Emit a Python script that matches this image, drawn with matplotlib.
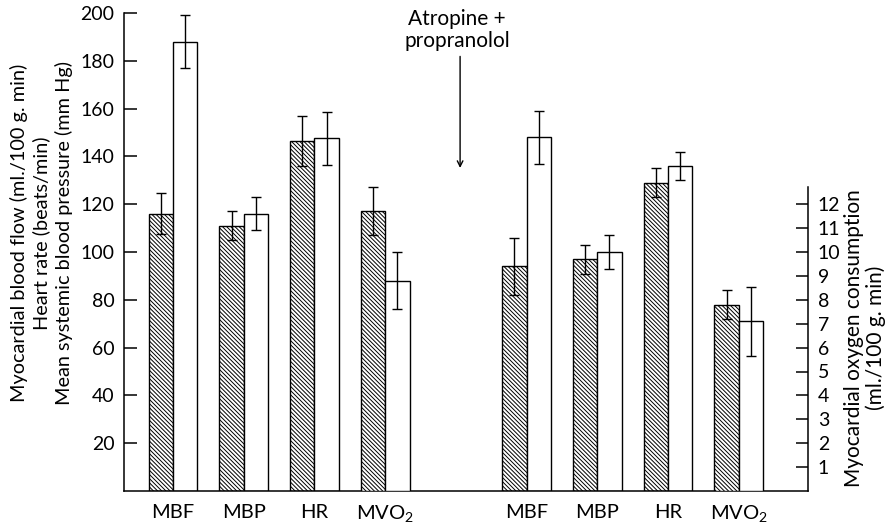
import numpy as np
import matplotlib.pyplot as plt

plt.rcParams['font.family'] = ['Lato', 'DejaVu Sans']
plt.rcParams['mathtext.default'] = 'regular'
plt.rcParams['hatch.linewidth'] = 0.7

labels = ['MBF', 'MBP', 'HR', 'MVO$_2$']

# MBF, MBP, HR on left scale; hatched = control, open = second measurement
before_hatched = [116, 111, 146.5]
before_hatched_err = [8.5, 6, 10.5]
before_open = [188, 116, 147.5]
before_open_err = [11, 7, 11]

after_hatched = [94, 97, 129]
after_hatched_err = [12, 6, 6]
after_open = [148, 100, 136]
after_open_err = [11, 7, 6]

# MVO2 on right scale (before, after)
mvo2_hatched = [11.7, 7.8]
mvo2_hatched_err = [1.0, 0.6]
mvo2_open = [8.8, 7.1]
mvo2_open_err = [1.2, 1.45]

left_pos = np.array([0, 1, 2, 3])
right_pos = np.array([5, 6, 7, 8])
w = 0.345
HATCH = '\\' * 8

fig, ax = plt.subplots(figsize=(8.9, 5.31), dpi=100)
fig.subplots_adjust(left=124/890, right=808/890, bottom=40/531, top=518/531)
ax2 = ax.twinx()


def draw(axis, x, h, e, hatched):
    axis.bar(x, h, w, yerr=e, color='white', edgecolor='black', linewidth=1,
             hatch=HATCH if hatched else None,
             error_kw=dict(elinewidth=1, capsize=3.5, capthick=1, ecolor='black'))


draw(ax, left_pos[:3] - w/2, before_hatched, before_hatched_err, True)
draw(ax, left_pos[:3] + w/2, before_open, before_open_err, False)
draw(ax, right_pos[:3] - w/2, after_hatched, after_hatched_err, True)
draw(ax, right_pos[:3] + w/2, after_open, after_open_err, False)

mvo2_pos = np.array([left_pos[3], right_pos[3]])
draw(ax2, mvo2_pos - w/2, mvo2_hatched, mvo2_hatched_err, True)
draw(ax2, mvo2_pos + w/2, mvo2_open, mvo2_open_err, False)

ax.set_xlim(-0.693, 8.98)
ax.set_ylim(0, 200)
ax2.set_ylim(0, 20)

for a in (ax, ax2):
    a.spines['top'].set_visible(False)
    for s in a.spines.values():
        s.set_linewidth(1.1)
ax.spines['right'].set_visible(False)
ax2.spines['left'].set_visible(False)
ax2.spines['bottom'].set_visible(False)
ax2.spines['right'].set_bounds(0, 12.7)

ax.set_yticks(np.arange(20, 201, 20))
ax.tick_params(axis='y', direction='in', length=9, width=1.1, labelsize=14, pad=7)
ax2.set_yticks(np.arange(1, 13))
ax2.tick_params(axis='y', direction='in', length=9, width=1.1, labelsize=14, pad=7)

ax.set_xticks(np.concatenate([left_pos, right_pos]))
ax.set_xticklabels(labels * 2)
ax.tick_params(axis='x', length=0, labelsize=14.5, pad=9)

fig.text(41/890, 1 - 233/531,
         'Myocardial blood flow (ml./100 g. min)\nHeart rate (beats/min)\nMean systemic blood pressure (mm Hg)',
         rotation=90, ha='center', va='center', fontsize=14.3, linespacing=1.3, multialignment='center')
fig.text(865/890, 1 - 338/531, 'Myocardial oxygen consumption\n(ml./100 g. min)',
         rotation=90, ha='center', va='center', fontsize=15, linespacing=1.05, multialignment='center')

ax.annotate('', xy=(4.06, 134), xytext=(4.06, 183),
            arrowprops=dict(arrowstyle='->', lw=1, color='black'))
ax.text(4.02, 193, 'Atropine +\npropranolol', ha='center', va='center', fontsize=15, linespacing=1.15)

fig.savefig('out.png', dpi=100)
